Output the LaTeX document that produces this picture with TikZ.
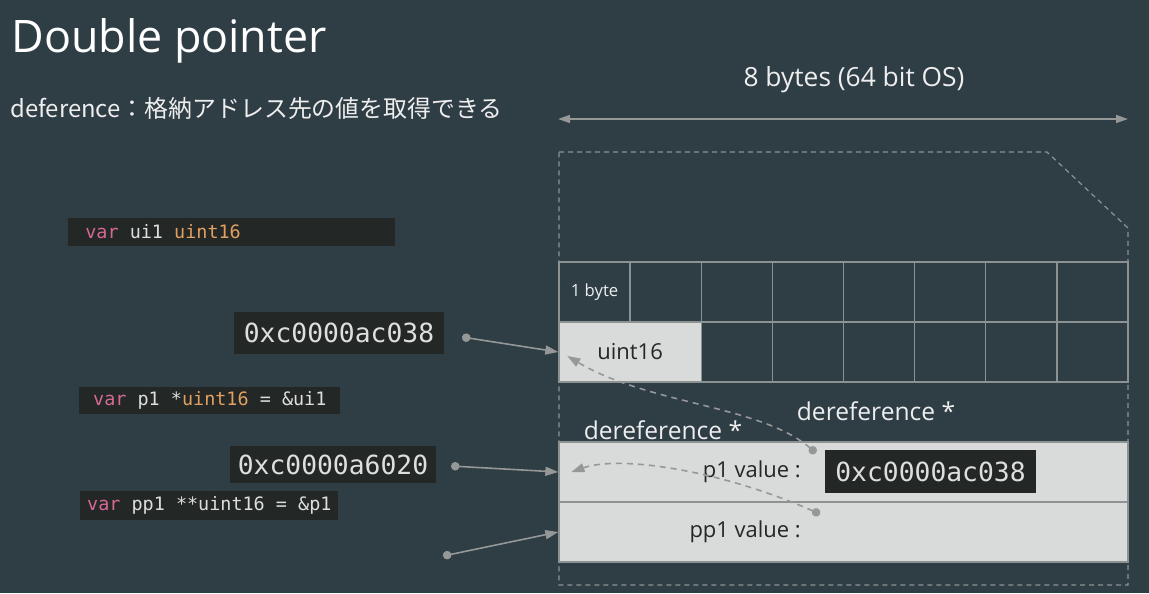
\documentclass[tikz,border=0pt]{standalone}
\usepackage{fontspec}
\setmainfont{Open Sans}
\setmonofont{DejaVu Sans Mono}
\newfontfamily\jpfont{Noto Sans CJK JP}
\usetikzlibrary{arrows.meta,calc,positioning}

\definecolor{slidebg}{RGB}{47,61,69}
\definecolor{codebg}{RGB}{35,39,38}
\definecolor{cellfill}{RGB}{217,219,219}
\definecolor{gridgray}{RGB}{140,146,146}
\definecolor{arrowgray}{RGB}{150,152,152}
\definecolor{kwpink}{RGB}{214,104,150}
\definecolor{typeorange}{RGB}{226,160,96}
\definecolor{codetext}{RGB}{222,222,222}
\definecolor{lighttext}{RGB}{238,238,238}

\tikzset{
  codebox/.style={fill=codebg, anchor=west, inner ysep=0pt,
    font=\ttfamily\fontsize{10.5}{12}\selectfont, text=codetext},
  addrbox/.style={fill=codebg, inner sep=0pt,
    font=\ttfamily\fontsize{15}{18}\selectfont, text=codetext},
  memcell/.style={draw=gridgray, line width=0.8pt, minimum width=1.4225cm,
    minimum height=1.2cm, inner sep=0pt},
  valrow/.style={draw=gridgray, line width=0.8pt, fill=cellfill,
    minimum width=11.38cm, minimum height=1.2cm, inner sep=0pt},
  darktext/.style={text=black!85, font=\fontsize{12.5}{14}\selectfont},
  derefnote/.style={text=lighttext, font=\fontsize{14}{16}\selectfont},
  ptrarrow/.style={draw=arrowgray, line width=0.9pt,
    arrows={Circle[length=0.17cm]-Triangle[length=0.26cm,width=0.18cm]}},
  derefarrow/.style={ptrarrow, dash pattern=on 0.12cm off 0.1cm}
}

\begin{document}
\begin{tikzpicture}[x=0.02cm,y=-0.02cm]
\useasboundingbox (0,0) rectangle (1149,593);
\fill[slidebg] (0,0) rectangle (1149,593);

% heading
\node[anchor=base west, inner sep=0pt, text=white,
  font=\fontsize{25.5}{30}\selectfont] (title) at (11,52) {Double pointer};
\node[anchor=west, inner sep=0pt, text=lighttext,
  font=\jpfont\fontsize{13.6}{16}\selectfont] (subtitle) at (10,108)
  {deference：格納アドレス先の値を取得できる};

% width of one word
\coordinate (wl) at (558,119);
\coordinate (wr) at (1128,119);
\draw[draw=arrowgray, line width=0.9pt,
  arrows={Triangle[length=0.24cm,width=0.16cm]-Triangle[length=0.24cm,width=0.16cm]}]
  (wl) -- (wr);
\node[text=lighttext, font=\fontsize{15}{17}\selectfont] (wordsize) at (854,80)
  {8 bytes (64 bit OS)};

% memory outline
\draw[draw=gridgray, line width=0.7pt, dash pattern=on 0.1cm off 0.08cm]
  (559,152) -- (1047,152) -- (1128,228) -- (1128,585) -- (559,585) -- cycle;

% byte grid
\foreach \c in {1,...,8}
  \node[memcell] (top-\c) at ({559+71.125*(\c-0.5)},292) {};
\node[text=lighttext, font=\fontsize{9.5}{11}\selectfont] at (top-1) {1 byte};
\node[memcell, fill=cellfill, minimum width=2.845cm, darktext] (u16) at (630.1,352) {uint16};
\foreach \c in {3,...,8}
  \node[memcell] (low-\c) at ({559+71.125*(\c-0.5)},352) {};

% pointer values
\node[valrow] (p1row) at (843.5,472) {};
\node[valrow] (pp1row) at (843.5,532) {};
\node[darktext, anchor=east] (p1lbl) at (807,472) {p1 value :};
\node[darktext, anchor=east] (pp1lbl) at (807,532) {pp1 value :};
\node[addrbox, minimum width=4.22cm, minimum height=0.86cm] (p1val) at (930.5,471.5) {0xc0000ac038};

\node[derefnote] (deref1) at (876,411) {dereference *};
\node[derefnote] (deref2) at (663,430) {dereference *};

% source code
\node[codebox, minimum height=0.56cm, inner xsep=0.34cm] (ui1code) at (68,232)
  {\makebox[5.86cm][l]{\textcolor{kwpink}{var} ui1 \textcolor{typeorange}{uint16}}};
\node[codebox, minimum height=0.54cm, minimum width=5.22cm] (p1code) at (79,400.5)
  {\textcolor{kwpink}{var} p1 *\textcolor{typeorange}{uint16} = \&ui1};
\node[codebox, minimum height=0.58cm, minimum width=5.16cm] (pp1code) at (80,505.5)
  {\textcolor{kwpink}{var} pp1 **uint16 = \&p1};

\node[addrbox, minimum width=4.2cm, minimum height=0.84cm] (ui1addr) at (339,333) {0xc0000ac038};
\node[addrbox, minimum width=4.12cm, minimum height=0.74cm] (p1addr) at (333,464.5) {0xc0000a6020};

% address arrows
\coordinate (ui1dot) at (462,337);
\coordinate (p1dot) at (451,466);
\coordinate (pp1dot) at (443,556);
\draw[ptrarrow] (ui1dot) -- (u16.west);
\draw[ptrarrow] (p1dot) -- (p1row.west);
\draw[ptrarrow] (pp1dot) -- (pp1row.west);

% dereference arrows
\coordinate (p1deref) at (816,453);
\coordinate (pp1deref) at (820,514);
\draw[derefarrow] (p1deref) .. controls (760,405) and (650,405) .. ($(u16.west)+(9,4)$);
\draw[derefarrow] (pp1deref) .. controls (720,470) and (620,455) .. ($(p1row.west)+(13,0)$);
\end{tikzpicture}
\end{document}
